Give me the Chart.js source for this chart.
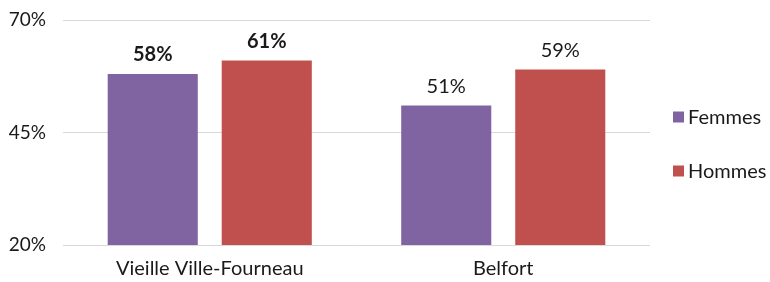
<!DOCTYPE html>
<html>
<head>
<meta charset="utf-8">
<script src="https://cdn.jsdelivr.net/npm/chart.js@4"></script>
<style>
  html, body { margin: 0; padding: 0; background: #fff; }
  #wrap { width: 770px; height: 282px; }
</style>
</head>
<body>
<div id="wrap"><canvas id="chart" width="770" height="282"></canvas></div>
<script>
// Données
const categories = ['Vieille Ville-Fourneau', 'Belfort'];
const femmes = [58, 51];
const hommes = [61, 59];
const yTicks = [20, 45, 70];

const fontFamily = 'Lato';
const textColor = '#1a1a1a';

// Étiquettes de valeurs au-dessus des barres
const valueLabels = {
    id: 'valueLabels',
    afterDatasetsDraw(chart) {
        const ctx = chart.ctx;
        ctx.save();
        ctx.textAlign = 'center';
        ctx.textBaseline = 'alphabetic';
        ctx.fillStyle = textColor;
        chart.data.datasets.forEach(function(ds, i) {
            const meta = chart.getDatasetMeta(i);
            meta.data.forEach(function(bar, j) {
                // la première catégorie est en gras
                ctx.font = (j === 0 ? 'bold ' : '') + '20px ' + fontFamily;
                ctx.fillText(ds.data[j] + '%', bar.x, bar.y - 13);
            });
        });
        ctx.restore();
    }
};

// Légende verticale à droite
const sideLegend = {
    id: 'sideLegend',
    afterDraw(chart) {
        const ctx = chart.ctx;
        const x = chart.chartArea.right + 23;
        const y0 = 117;
        const step = 54;
        ctx.save();
        ctx.font = '20px ' + fontFamily;
        ctx.textBaseline = 'middle';
        ctx.textAlign = 'left';
        chart.data.datasets.forEach(function(ds, i) {
            const y = y0 + i * step;
            ctx.fillStyle = ds.backgroundColor;
            ctx.fillRect(x, y - 5.5, 11, 11);
            ctx.fillStyle = textColor;
            ctx.fillText(ds.label, x + 15, y + 1);
        });
        ctx.restore();
    }
};

new Chart(document.getElementById('chart'), {
    type: 'bar',
    data: {
        labels: categories,
        datasets: [
            { label: 'Femmes', data: femmes, backgroundColor: '#8064A2' },
            { label: 'Hommes', data: hommes, backgroundColor: '#C0504D' }
        ]
    },
    options: {
        responsive: false,
        animation: false,
        layout: { padding: { top: 20, right: 120, left: 0, bottom: 0 } },
        datasets: {
            bar: { categoryPercentage: 0.777, barPercentage: 0.79 }
        },
        scales: {
            x: {
                grid: { display: false, drawTicks: false },
                border: { display: false },
                ticks: { color: textColor, font: { family: fontFamily, size: 20 }, padding: 12 },
                afterFit(axis) { axis.height = 37; }
            },
            y: {
                min: 20,
                max: 70,
                afterBuildTicks(axis) {
                    axis.ticks = yTicks.map(v => ({ value: v }));
                },
                grid: { color: '#d9d9d9', drawTicks: false },
                border: { display: false },
                ticks: {
                    color: textColor,
                    font: { family: fontFamily, size: 19 },
                    padding: 17,
                    callback: v => v + '%'
                },
                afterFit(axis) {
                    axis.width = 63;
                    axis.paddingTop = 0;
                    axis.paddingBottom = 0;
                }
            }
        },
        plugins: {
            legend: { display: false },
            tooltip: { enabled: false }
        }
    },
    plugins: [valueLabels, sideLegend]
});
</script>
</body>
</html>
